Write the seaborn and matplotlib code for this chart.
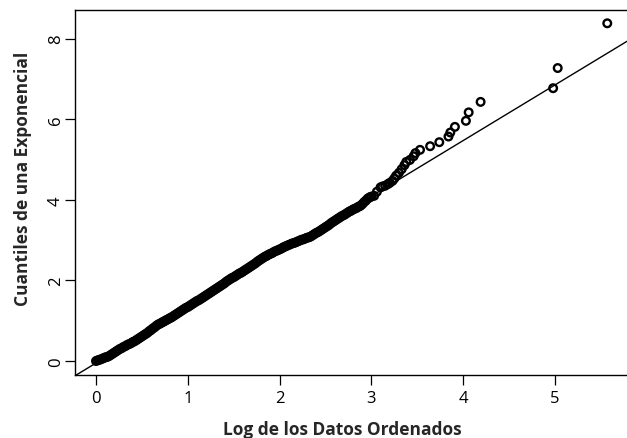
import matplotlib
matplotlib.use("Agg")
import matplotlib.pyplot as plt
import seaborn as sns
import pandas as pd

# ----- data (log of sorted data vs exponential quantiles) -----
log_datos = [
    0.00, 0.02, 0.04, 0.06, 0.08, 0.10, 0.12, 0.14,
    0.16, 0.18, 0.20, 0.22, 0.24, 0.26,
    0.28, 0.30, 0.32, 0.34, 0.36, 0.38, 0.40,
    0.42, 0.44, 0.46, 0.48, 0.50, 0.52, 0.54,
    0.56, 0.58, 0.60, 0.62, 0.64, 0.66,
    0.68, 0.70, 0.72, 0.74, 0.76, 0.78, 0.80,
    0.82, 0.84, 0.86, 0.88, 0.90, 0.92, 0.94, 0.96, 0.98,
    1.00, 1.02, 1.04, 1.06, 1.08, 1.10,
    1.12, 1.14, 1.16, 1.18, 1.20, 1.22, 1.24, 1.26, 1.28, 1.30,
    1.32, 1.34, 1.36, 1.38, 1.40, 1.42, 1.44, 1.46,
    1.48, 1.50, 1.52, 1.54, 1.56, 1.58, 1.60,
    1.62, 1.64, 1.66, 1.68, 1.70, 1.72, 1.74,
    1.76, 1.78, 1.80, 1.82, 1.84,
    1.86, 1.88, 1.90, 1.92, 1.94, 1.96,
    1.98, 2.00, 2.02, 2.04, 2.06, 2.08, 2.10,
    2.12, 2.14, 2.16, 2.18, 2.20, 2.22,
    2.24, 2.26, 2.28, 2.30, 2.32,
    2.34, 2.36, 2.38, 2.40, 2.42, 2.44,
    2.46, 2.48, 2.50, 2.52, 2.54, 2.56, 2.58, 2.60, 2.62, 2.64, 2.66,
    2.68, 2.70, 2.72, 2.74, 2.76,
    2.78, 2.80, 2.82, 2.84, 2.86, 2.88,
    2.90, 2.92, 2.94, 2.96, 2.98, 3.00,
    3.03, 3.06, 3.10, 3.12, 3.15, 3.18, 3.20, 3.23, 3.25, 3.27, 3.30,
    3.33, 3.36, 3.38, 3.42, 3.46, 3.48, 3.53, 3.64, 3.74, 3.84, 3.86,
    3.91, 4.03, 4.06, 4.19, 4.98, 5.03, 5.57,
]
cuantiles_exp = [
    0.00, 0.02, 0.03, 0.05, 0.07, 0.09, 0.10, 0.12,
    0.15, 0.18, 0.21, 0.24, 0.27, 0.30,
    0.32, 0.35, 0.37, 0.40, 0.42, 0.44, 0.47,
    0.49, 0.52, 0.55, 0.58, 0.61, 0.64, 0.67,
    0.70, 0.74, 0.77, 0.81, 0.84, 0.88,
    0.91, 0.93, 0.96, 0.98, 1.01, 1.03, 1.06,
    1.08, 1.11, 1.14, 1.17, 1.20, 1.23, 1.26, 1.29, 1.32,
    1.34, 1.37, 1.40, 1.43, 1.46, 1.49,
    1.51, 1.54, 1.57, 1.60, 1.63, 1.66, 1.69, 1.72, 1.75, 1.78,
    1.81, 1.84, 1.87, 1.90, 1.93, 1.97, 2.00, 2.03,
    2.06, 2.08, 2.11, 2.14, 2.17, 2.19, 2.22,
    2.25, 2.28, 2.31, 2.34, 2.37, 2.40, 2.43,
    2.47, 2.50, 2.53, 2.56, 2.59,
    2.61, 2.64, 2.66, 2.68, 2.71, 2.73,
    2.75, 2.77, 2.79, 2.82, 2.84, 2.86, 2.88,
    2.90, 2.92, 2.93, 2.95, 2.97, 2.99,
    3.01, 3.02, 3.04, 3.06, 3.07,
    3.09, 3.12, 3.15, 3.18, 3.20, 3.23,
    3.26, 3.29, 3.32, 3.35, 3.38, 3.42, 3.45, 3.48, 3.51, 3.54, 3.57,
    3.60, 3.62, 3.65, 3.68, 3.71,
    3.73, 3.76, 3.78, 3.80, 3.83, 3.85,
    3.89, 3.94, 3.98, 4.03, 4.06, 4.08,
    4.10, 4.20, 4.31, 4.33, 4.35, 4.39, 4.42, 4.47, 4.53, 4.60, 4.67,
    4.76, 4.86, 4.94, 4.99, 5.08, 5.16, 5.24, 5.33, 5.43, 5.57, 5.67,
    5.81, 5.96, 6.17, 6.43, 6.77, 7.27, 8.38,
]

# reference line
intercepto = -0.05
pendiente = 1.38

x_ticks = [0, 1, 2, 3, 4, 5]
y_ticks = [0, 2, 4, 6, 8]

df = pd.DataFrame({"x": log_datos, "y": cuantiles_exp})

sns.set_style("ticks")
plt.rcParams["font.family"] = ["Open Sans", "DejaVu Sans"]

fig = plt.figure(figsize=(6.27, 4.39), dpi=100)
ax = fig.add_axes([75 / 627, 63 / 439, 552 / 627, 365 / 439])

sns.scatterplot(data=df, x="x", y="y", ax=ax, marker="o", s=30,
                facecolors="none", edgecolors="black", linewidth=1.7,
                zorder=3)
ax.axline((0, intercepto), slope=pendiente, color="black", linewidth=1.0)

ax.set_xlim(-0.229, 5.785)
ax.set_ylim(-0.347, 8.71)
ax.set_xticks(x_ticks)
ax.set_yticks(y_ticks)
ax.set_xticklabels([str(t) for t in x_ticks])
ax.set_yticklabels([str(t) for t in y_ticks], rotation=90, va="center")
ax.tick_params(axis="both", direction="out", length=7, width=0.9,
               labelsize=12, colors="black")
ax.tick_params(axis="x", pad=4)
ax.tick_params(axis="y", pad=1)

for side in ["left", "bottom", "top"]:
    ax.spines[side].set_visible(True)
    ax.spines[side].set_color("black")
    ax.spines[side].set_linewidth(1.0)
ax.spines["right"].set_visible(False)

ax.set_xlabel("Log de los Datos Ordenados", fontsize=12.5, fontweight="bold")
ax.set_ylabel("Cuantiles de una Exponencial", fontsize=12.5, fontweight="bold")
ax.xaxis.set_label_coords(0.484, -0.122)
ax.yaxis.set_label_coords(-0.077, 0.54)

fig.savefig("out.png", dpi=100)
